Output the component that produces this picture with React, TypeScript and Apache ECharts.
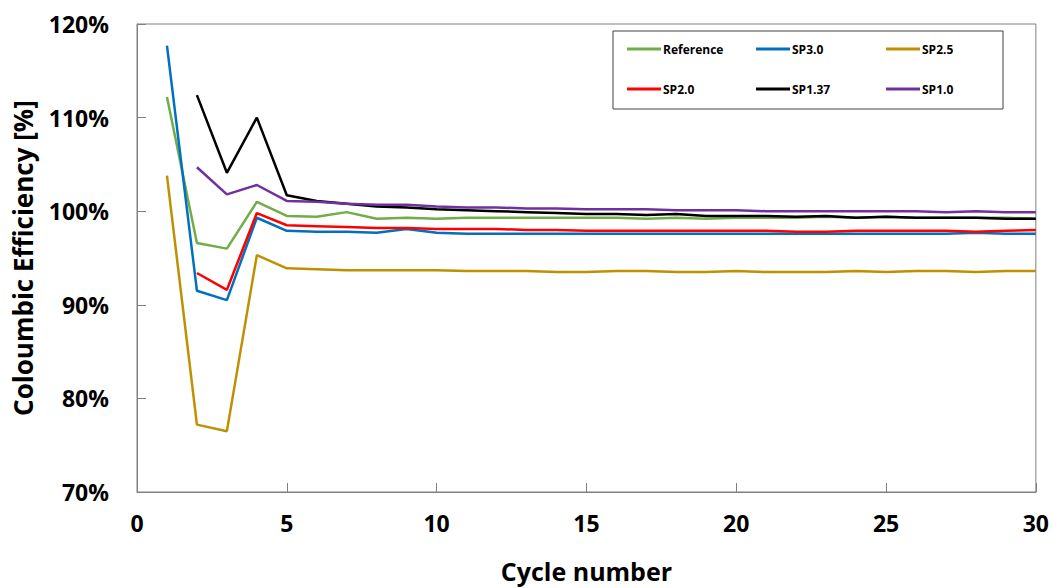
import React, { useEffect, useRef } from "react";
import * as echarts from "echarts";

const cycles = Array.from({ length: 30 }, (_, i) => i + 1);

const seriesNames = ["Reference", "SP3.0", "SP2.5", "SP2.0", "SP1.37", "SP1.0"];
const seriesColors = ["#70ad47", "#0070c0", "#bf9000", "#ff0000", "#000000", "#7030a0"];

const reference = [112.2, 96.6, 96.0, 101.0, 99.5, 99.4, 99.9, 99.2, 99.3, 99.2, 99.3, 99.3, 99.3, 99.3, 99.3, 99.3, 99.2, 99.3, 99.2, 99.3, 99.3, 99.3, 99.4, 99.3, 99.4, 99.3, 99.3, 99.3, 99.3, 99.2];
const sp30 = [117.7, 91.5, 90.5, 99.3, 97.9, 97.8, 97.8, 97.7, 98.1, 97.7, 97.6, 97.6, 97.6, 97.6, 97.6, 97.6, 97.6, 97.6, 97.6, 97.6, 97.6, 97.6, 97.6, 97.6, 97.6, 97.6, 97.6, 97.7, 97.6, 97.6];
const sp25 = [103.8, 77.2, 76.5, 95.3, 93.9, 93.8, 93.7, 93.7, 93.7, 93.7, 93.6, 93.6, 93.6, 93.5, 93.5, 93.6, 93.6, 93.5, 93.5, 93.6, 93.5, 93.5, 93.5, 93.6, 93.5, 93.6, 93.6, 93.5, 93.6, 93.6];
const sp20 = [null, 93.4, 91.6, 99.8, 98.5, 98.4, 98.3, 98.2, 98.2, 98.1, 98.1, 98.1, 98.0, 98.0, 97.9, 97.9, 97.9, 97.9, 97.9, 97.9, 97.9, 97.8, 97.8, 97.9, 97.9, 97.9, 97.9, 97.8, 97.9, 98.0];
const sp137 = [null, 112.4, 104.1, 110.0, 101.7, 101.1, 100.8, 100.5, 100.4, 100.2, 100.1, 100.0, 99.9, 99.8, 99.7, 99.7, 99.6, 99.7, 99.5, 99.5, 99.5, 99.4, 99.5, 99.3, 99.4, 99.3, 99.3, 99.3, 99.2, 99.2];
const sp10 = [null, 104.7, 101.8, 102.8, 101.1, 101.0, 100.8, 100.7, 100.7, 100.5, 100.4, 100.4, 100.3, 100.3, 100.2, 100.2, 100.2, 100.1, 100.1, 100.1, 100.0, 100.0, 100.0, 100.0, 100.0, 100.0, 99.9, 100.0, 99.9, 99.9];

const seriesValues = [reference, sp30, sp25, sp20, sp137, sp10];

const legendPos = [
  { left: 627, top: 43 },
  { left: 756, top: 43 },
  { left: 886, top: 43 },
  { left: 627, top: 83 },
  { left: 756, top: 83 },
  { left: 886, top: 83 },
];

const FONT = "'Open Sans', Lato, sans-serif";

export default function App() {
  const ref = useRef<HTMLDivElement>(null);
  useEffect(() => {
    if (!ref.current) return;
    const chart = echarts.init(ref.current, undefined, { renderer: "svg" });
    const axisLine = { show: true, lineStyle: { color: "#808080", width: 1 } };
    chart.setOption({
      animation: false,
      backgroundColor: "#ffffff",
      grid: {
        left: 137,
        right: 16,
        top: 24,
        bottom: 94,
        show: true,
        borderColor: "#808080",
        borderWidth: 1,
      },
      xAxis: {
        type: "value",
        min: 0,
        max: 30,
        interval: 5,
        axisLine,
        axisTick: { show: true, inside: true, length: 9, lineStyle: { color: "#808080" } },
        splitLine: { show: false },
        axisLabel: { fontFamily: FONT, fontWeight: "bold", fontSize: 23, color: "#000", margin: 19 },
        name: "Cycle number",
        nameLocation: "middle",
        nameGap: 66,
        nameTextStyle: { fontFamily: FONT, fontWeight: "bold", fontSize: 25, color: "#000" },
      },
      yAxis: {
        type: "value",
        min: 70,
        max: 120,
        interval: 10,
        axisLine,
        axisTick: { show: true, inside: true, length: 9, lineStyle: { color: "#808080" } },
        splitLine: { show: false },
        axisLabel: {
          fontFamily: FONT,
          fontWeight: "bold",
          fontSize: 23,
          color: "#000",
          margin: 28,
          formatter: "{value}%",
        },
        name: "Coloumbic Efficiency [%]",
        nameLocation: "middle",
        nameGap: 101,
        nameTextStyle: { fontFamily: FONT, fontWeight: "bold", fontSize: 26, color: "#000" },
      },
      legend: seriesNames.map((n, i) => ({
        data: [n],
        left: legendPos[i].left,
        top: legendPos[i].top,
        icon: "rect",
        itemWidth: 34,
        itemHeight: 3,
        itemGap: 4,
        padding: 0,
        textStyle: { fontFamily: FONT, fontWeight: "bold", fontSize: 12, color: "#000", padding: [0, 0, 0, -3] },
      })),
      graphic: [
        {
          type: "rect",
          shape: { x: 613, y: 31, width: 390, height: 78 },
          style: { fill: "#ffffff", stroke: "#404040", lineWidth: 1 },
          z: -1,
          silent: true,
        },
      ],
      series: seriesNames.map((n, i) => ({
        name: n,
        type: "line",
        data: cycles.map((c, j) => [c, seriesValues[i][j]]),
        showSymbol: false,
        symbol: "none",
        connectNulls: false,
        lineStyle: { color: seriesColors[i], width: 2.5 },
        itemStyle: { color: seriesColors[i] },
        z: 2 + i,
      })),
    });
    return () => chart.dispose();
  }, []);
  return (
    <div
      ref={ref}
      style={{ position: "fixed", left: 0, top: 0, width: 1052, height: 588, background: "#fff" }}
    />
  );
}
